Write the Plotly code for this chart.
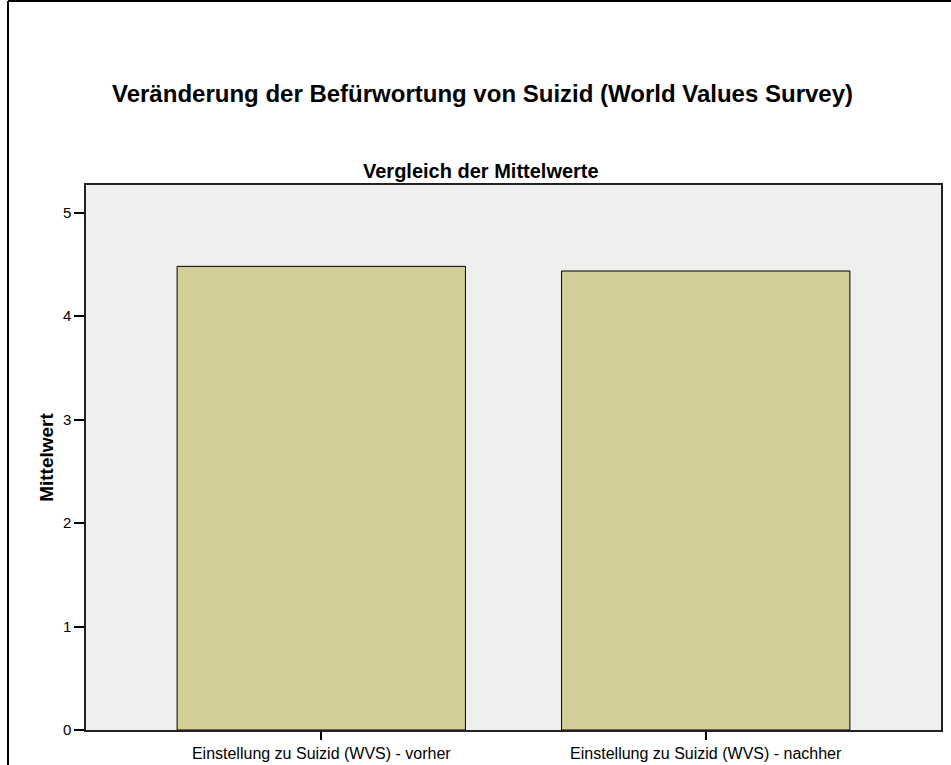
import plotly.graph_objects as go

categories = ["Einstellung zu Suizid (WVS) - vorher", "Einstellung zu Suizid (WVS) - nachher"]
means = [4.48, 4.435]
y_ticks = [0, 1, 2, 3, 4, 5]

FONT = "Liberation Sans, Arial, sans-serif"

L, R, T, B = 86, 10, 185, 35
PW, PH = 951 - L - R, 765 - T - B


def px(xp):
    return (xp - L) / PW


def py(yp):
    return (765 - B - yp) / PH


fig = go.Figure()
fig.add_trace(go.Bar(
    x=categories, y=means, width=0.75,
    marker=dict(color="#D3CE98", line=dict(color="#000000", width=1)),
))

fig.update_layout(
    width=951, height=765,
    margin=dict(l=L, r=R, t=T, b=B),
    paper_bgcolor="white", plot_bgcolor="#EFEFEF",
    showlegend=False,
    font=dict(family=FONT, color="black"),
    xaxis=dict(range=[-0.612, 1.612], showgrid=False, zeroline=False,
               showline=True, linecolor="#222", linewidth=1.5, mirror=True,
               ticks="outside", ticklen=8, tickcolor="black", tickwidth=1.5,
               tickfont=dict(size=16, family=FONT), automargin=False),
    yaxis=dict(range=[0, 5.266], tickvals=y_ticks, showgrid=False, zeroline=False,
               showline=True, linecolor="#222", linewidth=1.5, mirror=True,
               ticks="outside", ticklen=10, tickcolor="black", tickwidth=1.5,
               tickfont=dict(size=15, family=FONT), automargin=False,
               title=dict(text="<b>Mittelwert</b>", font=dict(size=19, family=FONT), standoff=4)),
    annotations=[
        dict(text="<b>Veränderung der Befürwortung von Suizid (World Values Survey)</b>",
             xref="paper", yref="paper", x=px(482), y=py(93),
             xanchor="center", yanchor="middle", showarrow=False,
             font=dict(size=24, family=FONT)),
        dict(text="<b>Vergleich der Mittelwerte</b>",
             xref="paper", yref="paper", x=px(481), y=py(171),
             xanchor="center", yanchor="middle", showarrow=False,
             font=dict(size=20, family=FONT)),
    ],
    shapes=[
        dict(type="line", xref="paper", yref="paper",
             x0=px(8), x1=px(8), y0=py(1), y1=py(780),
             line=dict(color="black", width=2)),
        dict(type="line", xref="paper", yref="paper",
             x0=px(8), x1=px(960), y0=py(1), y1=py(1),
             line=dict(color="black", width=2)),
    ],
)

fig.write_html("out.html")
